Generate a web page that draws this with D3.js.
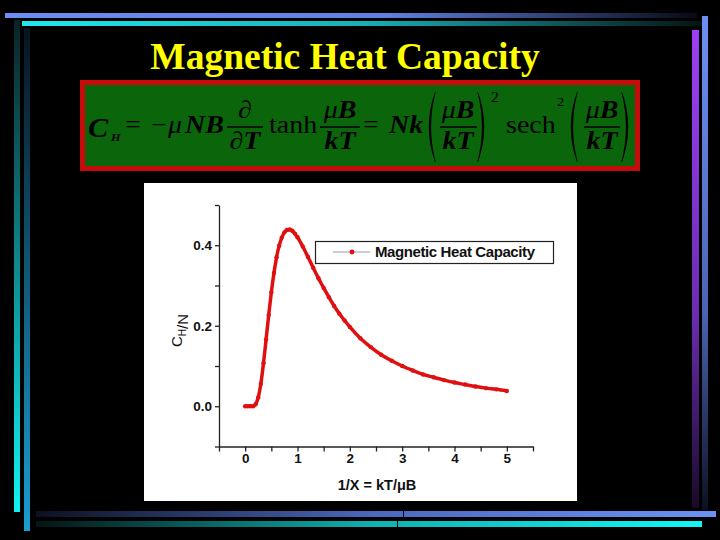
<!DOCTYPE html>
<html>
<head>
<meta charset="utf-8">
<script src="https://cdn.jsdelivr.net/npm/d3@7"></script>
<style>
  html, body { margin: 0; padding: 0; background: #000; }
  svg { display: block; }
</style>
</head>
<body>
<svg id="slide" width="720" height="540"></svg>
<script>
'use strict';

// values: kT/muB vs C_H/Nk
const temps = [0, 0.05, 0.1, 0.15, 0.2, 0.25, 0.3, 0.35, 0.4, 0.45, 0.5, 0.55,
  0.6, 0.65, 0.7, 0.75, 0.8, 0.85, 0.9, 0.95, 1.0, 1.1, 1.2, 1.3, 1.4, 1.5,
  1.6, 1.7, 1.8, 1.9, 2.0, 2.2, 2.4, 2.6, 2.8, 3.0, 3.2, 3.4, 3.6, 3.8, 4.0,
  4.2, 4.4, 4.6, 4.8, 5.0];
const heatCap = [0, 0, 0, 0, 0.005, 0.022, 0.056, 0.107, 0.166, 0.227, 0.283,
  0.331, 0.37, 0.399, 0.419, 0.432, 0.438, 0.439, 0.436, 0.429, 0.42, 0.397,
  0.371, 0.344, 0.318, 0.294, 0.271, 0.249, 0.23, 0.213, 0.197, 0.169, 0.147,
  0.128, 0.113, 0.1, 0.089, 0.079, 0.072, 0.065, 0.059, 0.054, 0.049, 0.045,
  0.042, 0.038];

const xTicks = [-0.5, 0, 0.5, 1, 1.5, 2, 2.5, 3, 3.5, 4, 4.5, 5, 5.5];
const xLabels = [0, 1, 2, 3, 4, 5];
const yTicks = [-0.1, 0, 0.1, 0.2, 0.3, 0.4, 0.5];
const yLabels = [0, 0.2, 0.4];
const seriesName = 'Magnetic Heat Capacity';
const slideTitle = 'Magnetic Heat Capacity';

const svg = d3.select('#slide');
const defs = svg.append('defs');

svg.append('rect').attr('width', 720).attr('height', 540).attr('fill', '#000');

// ---- slide decoration bars ----
const grad = (id, horiz, stops) => {
  const g = defs.append('linearGradient').attr('id', id)
    .attr('x1', 0).attr('y1', 0)
    .attr('x2', horiz ? 1 : 0).attr('y2', horiz ? 0 : 1);
  stops.forEach(([o, c]) => g.append('stop').attr('offset', o).attr('stop-color', c));
};

grad('gTopBlue', true, [[0, '#6c8ef2'], [0.55, '#6080e0'], [1, '#080a14']]);
grad('gTopCyan', true, [[0, '#22e6ee'], [0.5, '#18b0b8'], [1, '#051414']]);
grad('gLeftCyan', false, [[0, '#0a2228'], [1, '#12f2f2']]);
grad('gLeftBlue', false, [[0, '#081420'], [1, '#1a9ed0']]);
grad('gRightPurple', false, [[0, '#9c40f4'], [0.6, '#6a2cb0'], [1, '#180a28']]);
grad('gRightBlue', false, [[0, '#6c90f2'], [0.6, '#4a64b0'], [1, '#0c1020']]);
grad('gBotBlue', true, [[0, '#0c1020'], [0.5, '#4c68c0'], [1, '#6c92f4']]);
grad('gBotCyan', true, [[0, '#041414'], [0.5, '#10b0b0'], [1, '#12f6f6']]);

const bars = [
  { x: 5, y: 13, w: 692, h: 5, f: 'gTopBlue' },
  { x: 22, y: 21, w: 680, h: 5, f: 'gTopCyan' },
  { x: 14, y: 20, w: 6, h: 492, f: 'gLeftCyan' },
  { x: 24, y: 28, w: 6, h: 503, f: 'gLeftBlue' },
  { x: 692, y: 30, w: 7, h: 478, f: 'gRightPurple' },
  { x: 702, y: 16, w: 6, h: 494, f: 'gRightBlue' },
  { x: 36, y: 511, w: 680, h: 6, f: 'gBotBlue' },
  { x: 36, y: 521, w: 666, h: 6, f: 'gBotCyan' },
];
svg.append('g').selectAll('rect').data(bars).join('rect')
  .attr('x', (d) => d.x).attr('y', (d) => d.y)
  .attr('width', (d) => d.w).attr('height', (d) => d.h)
  .attr('fill', (d) => `url(#${d.f})`);
svg.append('line').attr('x1', 403.5).attr('x2', 403.5).attr('y1', 510).attr('y2', 518)
  .attr('stroke', '#000').attr('stroke-width', 1);
svg.append('line').attr('x1', 397.5).attr('x2', 397.5).attr('y1', 520).attr('y2', 528)
  .attr('stroke', '#000').attr('stroke-width', 1);

// ---- title ----
svg.append('text')
  .attr('x', 345).attr('y', 69)
  .attr('text-anchor', 'middle')
  .attr('font-family', '"Liberation Serif", "Times New Roman", serif')
  .attr('font-weight', 'bold')
  .attr('font-size', 37.5)
  .attr('fill', '#ffff00')
  .text(slideTitle);

// ---- formula box ----
svg.append('rect').attr('x', 82.5).attr('y', 82.5).attr('width', 555).attr('height', 86)
  .attr('fill', '#0b660b').attr('stroke', '#c80a0a').attr('stroke-width', 5);

const eq = svg.append('g')
  .attr('font-family', '"Liberation Serif", "Times New Roman", serif')
  .attr('fill', '#000');

const SX = 1.12;
const FS = 25;

// parts: [text, bold, italic]
const put = (x, y, parts, opts = {}) => {
  const t = eq.append('text')
    .attr('transform', `translate(${x},${y}) scale(${opts.sx || SX},1)`)
    .attr('font-size', opts.size || FS)
    .attr('text-anchor', opts.anchor || 'start');
  parts.forEach(([s, b, i]) => {
    t.append('tspan')
      .attr('font-weight', b ? 'bold' : 'normal')
      .attr('font-style', i ? 'italic' : 'normal')
      .text(s);
  });
  return t;
};

const frac = (cx, x0, x1, num, den) => {
  put(cx, 118, num, { anchor: 'middle' });
  eq.append('line').attr('x1', x0).attr('x2', x1).attr('y1', 127).attr('y2', 127)
    .attr('stroke', '#000').attr('stroke-width', 1.4);
  put(cx, 149, den, { anchor: 'middle' });
};

// thin tall brackets drawn as crescents
const paren = (cx, dir) => {
  const t = 92;
  const b = 162;
  const m = (t + b) / 2;
  const e = cx + dir * 4; // ends
  const o = cx - dir * 8.5; // outer bulge
  const i = cx - dir * 4.5; // inner bulge
  eq.append('path')
    .attr('d', `M${e},${t} Q${o},${m} ${e},${b} L${e + dir * 0.7},${b} Q${i},${m} ${e + dir * 0.7},${t} Z`)
    .attr('fill', '#000');
};

const muB = [['\u03bc', false, true], ['B', true, true]];
const kT = [['kT', true, true]];

put(88, 137, [['C', true, true]], { size: 27 });
put(111, 141, [['H', true, true]], { size: 11 });
put(125, 133, [['=']]);
put(151, 133, [['\u2212']]);
put(168, 133, [['\u03bc', false, true]]);
put(185, 133, [['NB', true, true]]);
frac(245, 227, 263, [['\u2202']], [['\u2202'], ['T', true, true]]);
put(269, 133, [['tanh']]);
frac(340, 320, 360, muB, kT);
put(363, 133, [['=']]);
put(389, 133, [['Nk', true, true]]);
paren(431, 1);
frac(458, 440, 477, muB, kT);
paren(482, -1);
put(491, 102, [['2']], { size: 14 });
put(506, 133, [['sech']]);
put(557, 106, [['2']], { size: 13 });
paren(573, 1);
frac(602, 584, 620, muB, kT);
paren(626, -1);

// ---- chart panel ----
svg.append('rect').attr('x', 144).attr('y', 183).attr('width', 433).attr('height', 318)
  .attr('fill', '#fff');

const x = d3.scaleLinear().domain([-0.5, 5.5]).range([219, 533]);
const y = d3.scaleLinear().domain([-0.1, 0.5]).range([446.5, 205]);

const axisFont = (g) => {
  g.selectAll('text')
    .attr('font-family', '"Liberation Sans", Arial, sans-serif')
    .attr('font-weight', 'bold')
    .attr('font-size', 13.5)
    .attr('fill', '#111');
  g.selectAll('line, path').attr('stroke', '#222').attr('stroke-width', 1.3);
};

svg.append('g')
  .attr('transform', `translate(${x.range()[0]},0)`)
  .call(d3.axisLeft(y).tickValues(yTicks).tickSize(4).tickSizeOuter(0).tickPadding(3)
    .tickFormat((d) => (yLabels.some((v) => Math.abs(v - d) < 1e-9) ? d3.format('.1f')(d) : '')))
  .call(axisFont);

svg.append('g')
  .attr('transform', `translate(0,${y.range()[0]})`)
  .call(d3.axisBottom(x).tickValues(xTicks).tickSize(5).tickSizeOuter(0).tickPadding(2)
    .tickFormat((d) => (xLabels.includes(d) ? d3.format('d')(d) : '')))
  .call(axisFont);

svg.append('text')
  .attr('x', 377).attr('y', 490)
  .attr('text-anchor', 'middle')
  .attr('font-family', '"Liberation Sans", Arial, sans-serif')
  .attr('font-weight', 'bold')
  .attr('font-size', 14.5)
  .attr('fill', '#111')
  .text('1/X = kT/\u03bcB');

const yTitle = svg.append('text')
  .attr('transform', 'translate(182,347) rotate(-90)')
  .attr('font-family', '"Liberation Sans", Arial, sans-serif')
  .attr('font-size', 15)
  .attr('fill', '#111');
yTitle.append('tspan').text('C');
yTitle.append('tspan').attr('font-size', 10).attr('dy', 4).text('H');
yTitle.append('tspan').attr('dy', 2).text('/N');

// ---- series ----
const pts = temps.map((t, i) => [t, heatCap[i]]);

svg.append('path')
  .datum(pts)
  .attr('fill', 'none')
  .attr('stroke', '#e01010')
  .attr('stroke-width', 3.5)
  .attr('stroke-linejoin', 'round')
  .attr('d', d3.line().x((d) => x(d[0])).y((d) => y(d[1])).curve(d3.curveMonotoneX));

svg.append('g').selectAll('circle').data(pts).join('circle')
  .attr('cx', (d) => x(d[0]))
  .attr('cy', (d) => y(d[1]))
  .attr('r', 2.2)
  .attr('fill', '#e01010');

// ---- legend ----
const leg = svg.append('g');
leg.append('rect').attr('x', 315.5).attr('y', 241.5).attr('width', 238).attr('height', 22)
  .attr('fill', '#fff').attr('stroke', '#222').attr('stroke-width', 1.2);
leg.append('line').attr('x1', 333).attr('x2', 370).attr('y1', 252).attr('y2', 252)
  .attr('stroke', '#999').attr('stroke-width', 1);
leg.append('circle').attr('cx', 352).attr('cy', 252).attr('r', 2.4).attr('fill', '#e01010');
leg.append('text')
  .attr('x', 375).attr('y', 257)
  .attr('font-family', '"Liberation Sans", Arial, sans-serif')
  .attr('font-weight', 'bold')
  .attr('font-size', 15)
  .attr('letter-spacing', -0.4)
  .attr('fill', '#111')
  .text(seriesName);
</script>
</body>
</html>
